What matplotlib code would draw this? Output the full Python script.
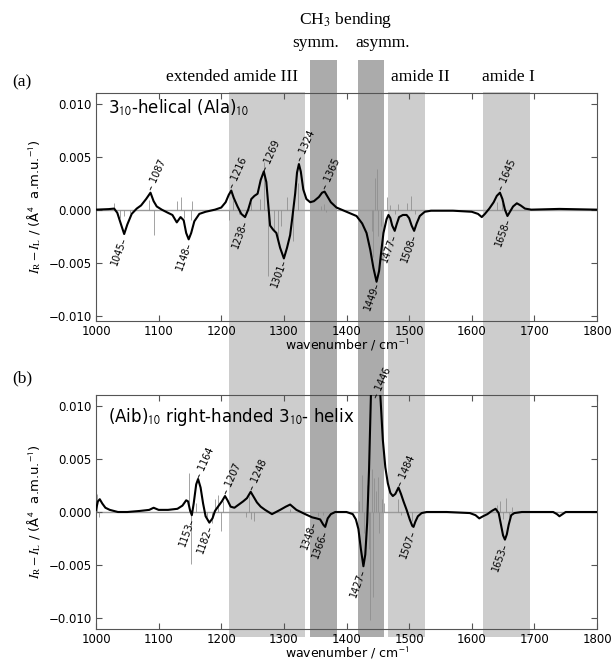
import matplotlib
matplotlib.use("Agg")
import matplotlib.pyplot as plt
import numpy as np

plt.rcParams['mathtext.fontset'] = 'stix'
plt.rcParams['font.family'] = ['DejaVu Sans']

# ---- shaded assignment regions (cm-1) ----
band_edges = [(1212, 1334), (1342, 1385), (1418, 1460), (1466, 1525), (1618, 1693)]
band_dark = [False, True, True, False, False]

# ---- (a) 3_10-helical (Ala)10 : broadened ROA curve ----
wn_a = [1000, 1020, 1029, 1034, 1040, 1045, 1050, 1057, 1065, 1072, 1080, 1087, 1092, 1097,
        1105, 1115, 1122, 1129, 1135, 1140, 1144, 1148, 1152, 1157, 1165, 1175, 1190, 1200,
        1207, 1212, 1216, 1220, 1226, 1232, 1238, 1243, 1248, 1253, 1258, 1263, 1268, 1272,
        1275, 1278, 1283, 1288, 1294, 1300, 1305, 1310, 1314, 1318, 1321, 1324, 1327, 1331,
        1336, 1342, 1348, 1356, 1361, 1365, 1369, 1375, 1384, 1400, 1416, 1425, 1432, 1438,
        1443, 1448, 1452, 1455, 1459, 1464, 1467, 1470, 1473, 1477, 1480, 1484, 1490, 1496,
        1500, 1504, 1508, 1512, 1517, 1525, 1535, 1570, 1600, 1610, 1616, 1621, 1628, 1635,
        1640, 1645, 1649, 1653, 1657, 1661, 1666, 1672, 1678, 1685, 1695, 1740, 1800]
roa_a = [0.0, 0.00005, 0.0001, -0.0003, -0.0014, -0.0023, -0.0014, -0.0004, 0.0001, 0.0004,
         0.0010, 0.0016, 0.0008, 0.0003, 0.0, -0.0003, -0.0005, -0.0012, -0.0007, -0.0010,
         -0.0022, -0.0028, -0.0022, -0.0011, -0.0004, -0.0002, 0.0, 0.0002, 0.0007, 0.0014,
         0.0018, 0.0011, 0.0003, -0.0004, -0.0007, 0.0, 0.0010, 0.0013, 0.0015, 0.0028,
         0.0036, 0.0026, 0.0005, -0.0015, -0.0019, -0.0022, -0.0036, -0.0046, -0.0036, -0.0024,
         -0.0005, 0.0015, 0.0035, 0.0043, 0.0036, 0.0019, 0.0010, 0.0007, 0.0008, 0.0012,
         0.0016, 0.0017, 0.0013, 0.0007, 0.0002, -0.0002, -0.0006, -0.0013, -0.0022, -0.0038,
         -0.0055, -0.0068, -0.0058, -0.0042, -0.0022, -0.0009, -0.0005, -0.0008, -0.0015, -0.0020,
         -0.0014, -0.0007, -0.0005, -0.0005, -0.0008, -0.0015, -0.0020, -0.0013, -0.0006, -0.0002,
         -0.0001, -0.0001, -0.0002, -0.0004, -0.0007, -0.0004, 0.0001, 0.0007, 0.0013, 0.0016,
         0.0010, 0.0000, -0.0006, -0.0002, 0.0003, 0.0006, 0.0004, 0.0001, 0.0, 0.00007, 0.0]
stick_wn_a = [1029, 1039, 1044, 1054, 1085, 1092, 1130, 1136, 1141, 1151, 1153, 1212, 1218,
              1228, 1248, 1262, 1268, 1275, 1284, 1290, 1296, 1305, 1315, 1322, 1360, 1364,
              1368, 1440, 1443, 1446, 1449, 1451, 1455, 1465, 1470, 1478, 1483, 1497, 1503,
              1510, 1640, 1648, 1655, 1662]
stick_h_a = [0.0006, -0.0008, -0.0006, -0.0003, 0.0009, -0.0024, 0.0008, 0.0012, -0.0008,
             -0.0010, 0.0008, -0.0010, 0.0009, -0.0004, 0.0007, 0.0010, 0.0045, -0.0063,
             -0.0020, -0.0030, -0.0015, 0.0012, -0.0030, 0.0025, 0.0003, 0.0005, -0.0002,
             -0.0020, -0.0045, 0.0030, 0.0038, -0.0025, -0.0015, 0.0012, 0.0004, -0.0004,
             0.0005, 0.0006, 0.0013, -0.0004, 0.0007, 0.0006, -0.0003, 0.0002]
peaks_up_a = [1087, 1216, 1269, 1324, 1365, 1645]
peaks_dn_a = [1045, 1148, 1238, 1301, 1449, 1477, 1508, 1658]

# ---- (b) (Aib)10 right-handed 3_10-helix ----
wn_b = [1000, 1003, 1006, 1010, 1015, 1022, 1035, 1050, 1070, 1085, 1092, 1100, 1115, 1130,
        1138, 1144, 1147, 1150, 1153, 1156, 1160, 1163, 1167, 1171, 1175, 1181, 1186, 1190,
        1196, 1201, 1206, 1210, 1215, 1221, 1228, 1235, 1241, 1247, 1252, 1257, 1263, 1270,
        1281, 1294, 1303, 1310, 1320, 1334, 1345, 1352, 1358, 1363, 1366, 1370, 1375, 1382,
        1400, 1410, 1415, 1419, 1423, 1427, 1430, 1433, 1436, 1439, 1442, 1446, 1450, 1454,
        1458, 1462, 1466, 1470, 1474, 1478, 1483, 1487, 1491, 1496, 1501, 1505, 1507, 1510,
        1514, 1520, 1528, 1560, 1597, 1606, 1612, 1618, 1625, 1632, 1638, 1643, 1647, 1650,
        1653, 1656, 1659, 1663, 1668, 1680, 1730, 1736, 1740, 1745, 1750, 1800]
roa_b = [0.0002, 0.0010, 0.0012, 0.0008, 0.0004, 0.0002, 0.0, 0.0, 0.0001, 0.0002, 0.0004,
         0.0002, 0.0002, 0.0003, 0.0006, 0.0011, 0.0010, 0.0002, -0.0003, 0.0008, 0.0026,
         0.0031, 0.0023, 0.0008, -0.0004, -0.0010, -0.0006, 0.0001, 0.0006, 0.0010, 0.0015,
         0.0011, 0.0005, 0.0004, 0.0007, 0.0010, 0.0013, 0.0019, 0.0014, 0.0009, 0.0005,
         0.0002, -0.0002, 0.0002, 0.0005, 0.0007, 0.0002, -0.0002, -0.0005, -0.0006, -0.0007,
         -0.0012, -0.0014, -0.0006, -0.0002, 0.0, 0.0, -0.0002, -0.0007, -0.0016, -0.0035,
         -0.0051, -0.0040, -0.0010, 0.0040, 0.0110, 0.0150, 0.0165, 0.0150, 0.0110, 0.0068,
         0.0042, 0.0027, 0.0018, 0.0015, 0.0017, 0.0023, 0.0017, 0.0010, 0.0002, -0.0007,
         -0.0013, -0.0014, -0.0009, -0.0004, -0.0001, 0.0, 0.0, -0.0001, -0.0003, -0.0006,
         -0.0004, -0.0002, 0.0001, 0.0003, -0.0001, -0.0013, -0.0022, -0.0026, -0.0021,
         -0.0012, -0.0003, -0.0001, 0.0, 0.0, -0.0002, -0.0004, -0.0002, 0.0, 0.0]
stick_wn_b = [1002, 1004, 1149, 1151, 1160, 1178, 1185, 1190, 1195, 1200, 1203, 1240, 1244,
              1248, 1252, 1310, 1355, 1362, 1420, 1425, 1428, 1432, 1436, 1438, 1440, 1442,
              1444, 1447, 1450, 1452, 1456, 1460, 1483, 1487, 1505, 1640, 1645, 1650, 1655,
              1660, 1665]
stick_h_b = [0.0017, -0.0005, 0.0037, -0.0049, 0.0008, -0.0005, -0.0010, 0.0012, 0.0016,
             -0.0018, 0.0010, -0.0005, 0.0015, -0.0007, -0.0008, 0.0003, -0.0004, -0.0003,
             0.0010, 0.0035, -0.0020, 0.0025, -0.0035, -0.0102, 0.0040, -0.0080, 0.0032,
             0.0020, 0.0033, -0.0020, 0.0012, 0.0008, 0.0012, -0.0003, -0.0008, 0.0007,
             0.0010, -0.0007, 0.0013, -0.0005, 0.0005]
peaks_up_b = [1164, 1207, 1248, 1446, 1484]
peaks_dn_b = [1153, 1182, 1348, 1366, 1427, 1507, 1653]

ytick_vals = [-0.010, -0.005, 0.0, 0.005, 0.010]
ytick_txt = ['\u22120.010', '\u22120.005', '0.000', '0.005', '0.010']
xticks = [1000, 1100, 1200, 1300, 1400, 1500, 1600, 1700, 1800]

H = 660.0
fig = plt.figure(figsize=(6.14, 6.6), dpi=100)
L, W = 96 / 614, 501 / 614

# background layer for the bands, spanning both panels
ax_bg = fig.add_axes([L, 0, W, 1], zorder=0)
ax_bg.set_xlim(1000, 1800)
ax_bg.set_ylim(H, 0)
ax_bg.axis('off')
for (x0, x1), dark in zip(band_edges, band_dark):
    top = 60 if dark else 92
    ax_bg.fill_between([x0, x1], top, 637, color='#ababab' if dark else '#cdcdcd', lw=0)

ax_a = fig.add_axes([L, 1 - 321 / H, W, 228 / H], zorder=1)
ax_b = fig.add_axes([L, 1 - 629 / H, W, 234 / H], zorder=1)

panels = [
    (ax_a, wn_a, roa_a, stick_wn_a, stick_h_a, peaks_up_a, peaks_dn_a, (-0.0105, 0.011),
     r'3$_{\mathsf{10}}$-helical (Ala)$_{\mathsf{10}}$', 0.934),
    (ax_b, wn_b, roa_b, stick_wn_b, stick_h_b, peaks_up_b, peaks_dn_b, (-0.011, 0.011),
     r'(Aib)$_{\mathsf{10}}$ right-handed 3$_{\mathsf{10}}$- helix', 0.906),
]

for ax, wn, roa, swn, sh, pup, pdn, ylim, title, ty in panels:
    ax.set_facecolor('none')
    ax.axhline(0, color='#9a9a9a', lw=1.0, zorder=1)
    ax.vlines(swn, 0, sh, color='#8c8c8c', lw=0.7, alpha=0.8, zorder=2)
    ax.plot(wn, roa, color='black', lw=1.5, zorder=3)
    ax.set_xlim(1000, 1800)
    ax.set_ylim(*ylim)
    ax.set_xticks(xticks)
    ax.set_yticks(ytick_vals)
    ax.set_yticklabels(ytick_txt)
    ax.tick_params(direction='in', top=True, right=True, length=4, labelsize=8.5,
                   color='#555555', pad=3)
    for s in ax.spines.values():
        s.set_color('#555555')
    ax.set_xlabel(r'wavenumber / cm$^{\mathsf{-1}}$', fontsize=9, labelpad=-1)
    ax.set_ylabel(r'$I_\mathrm{R}-I_\mathrm{L}$ / (Å$^{\mathsf{4}}$  a.m.u.$^{\mathsf{-1}}$)',
                  fontsize=9.5, labelpad=4)
    ax.text(0.024, ty, title, transform=ax.transAxes, fontsize=12, va='center', ha='left')

    top = ylim[1] * 0.98
    for p in pup:
        y = min(np.interp(p, wn, roa) + 0.0003, top)
        ax.text(p, y, '\u2013 %d' % p, rotation=66, rotation_mode='anchor',
                ha='left', va='center', fontsize=7, clip_on=False, zorder=4)
    for p in pdn:
        y = np.interp(p, wn, roa) - 0.0003
        ax.text(p, y, '%d\u2013' % p, rotation=70, rotation_mode='anchor',
                ha='right', va='center', fontsize=7, clip_on=False, zorder=4)

# header annotations
serif = ['Liberation Serif', 'DejaVu Serif']
fig.text(346 / 614, 1 - 20 / H, r'CH$_3$ bending', family=serif, fontsize=12.5, ha='center', va='center')
fig.text(316 / 614, 1 - 43 / H, 'symm.', family=serif, fontsize=12.5, ha='center', va='center')
fig.text(383 / 614, 1 - 43 / H, 'asymm.', family=serif, fontsize=12.5, ha='center', va='center')
fig.text(232 / 614, 1 - 77 / H, 'extended amide III', family=serif, fontsize=12.5, ha='center', va='center')
fig.text(420 / 614, 1 - 77 / H, 'amide II', family=serif, fontsize=12.5, ha='center', va='center')
fig.text(508 / 614, 1 - 77 / H, 'amide I', family=serif, fontsize=12.5, ha='center', va='center')
fig.text(22 / 614, 1 - 82 / H, '(a)', family=serif, fontsize=12.5, ha='center', va='center')
fig.text(22 / 614, 1 - 378 / H, '(b)', family=serif, fontsize=12.5, ha='center', va='center')

fig.savefig('out.png', dpi=100)
